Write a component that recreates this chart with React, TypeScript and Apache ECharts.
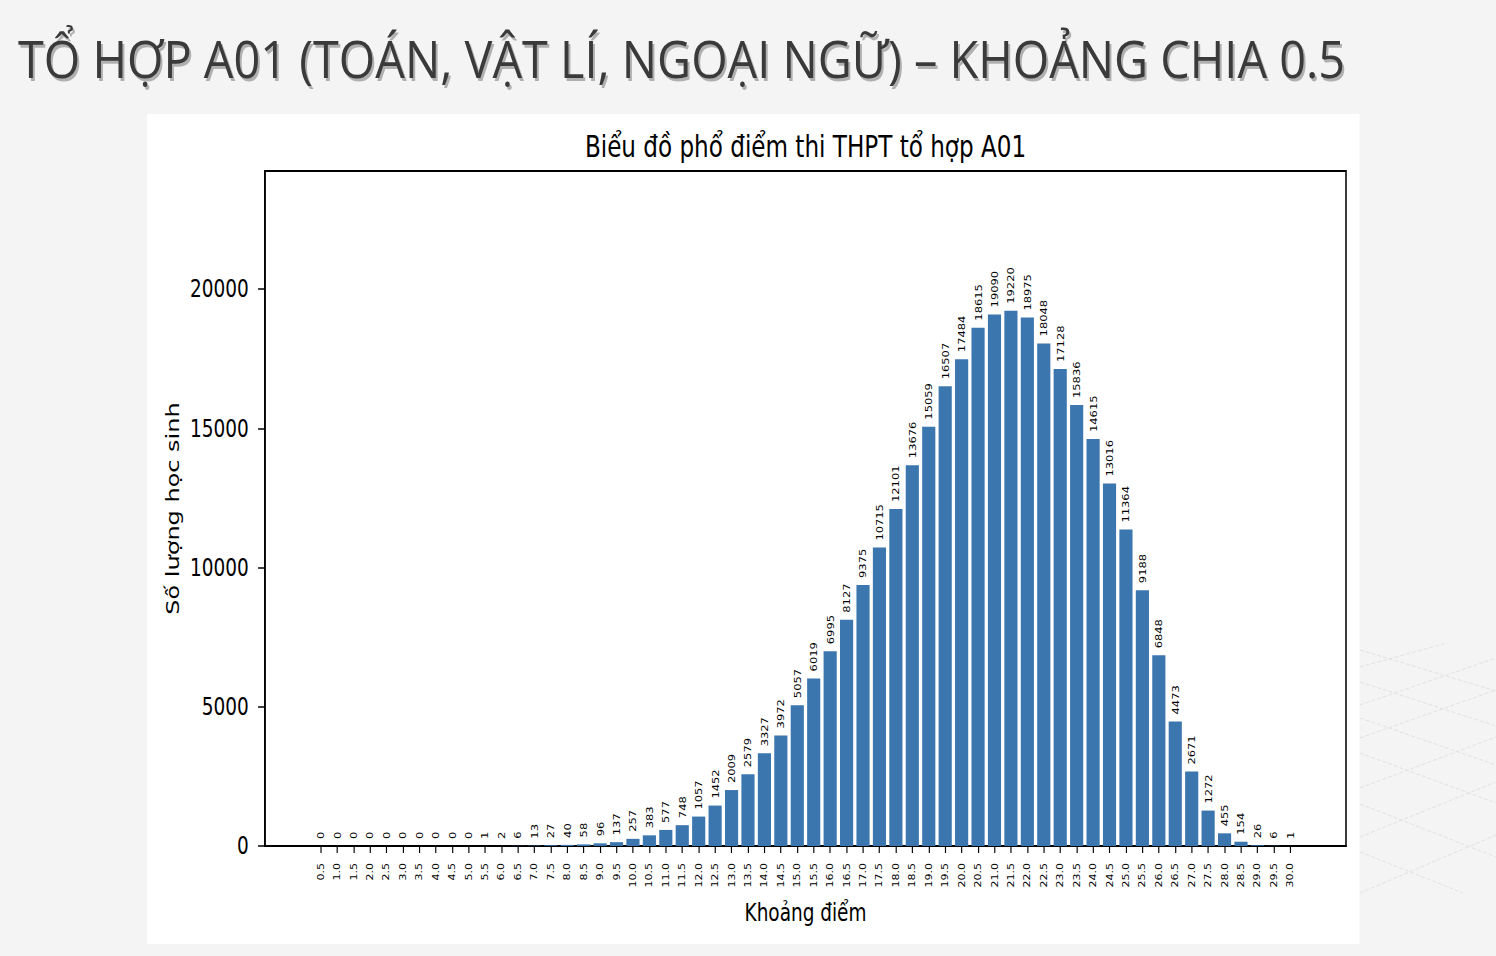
import React, { useEffect, useRef } from "react";
import * as echarts from "echarts";

const pageTitle = "TỔ HỢP A01 (TOÁN, VẬT LÍ, NGOẠI NGỮ) – KHOẢNG CHIA 0.5";
const chartTitle = "Biểu đồ phổ điểm thi THPT tổ hợp A01";
const xName = "Khoảng điểm";
const yName = "Số lượng học sinh";

const categories = [
  "0.5", "1.0", "1.5", "2.0", "2.5", "3.0", "3.5", "4.0", "4.5", "5.0",
  "5.5", "6.0", "6.5", "7.0", "7.5", "8.0", "8.5", "9.0", "9.5", "10.0",
  "10.5", "11.0", "11.5", "12.0", "12.5", "13.0", "13.5", "14.0", "14.5", "15.0",
  "15.5", "16.0", "16.5", "17.0", "17.5", "18.0", "18.5", "19.0", "19.5", "20.0",
  "20.5", "21.0", "21.5", "22.0", "22.5", "23.0", "23.5", "24.0", "24.5", "25.0",
  "25.5", "26.0", "26.5", "27.0", "27.5", "28.0", "28.5", "29.0", "29.5", "30.0",
];

const counts = [
  0, 0, 0, 0, 0, 0, 0, 0, 0, 0,
  1, 2, 6, 13, 27, 40, 58, 96, 137, 257,
  383, 577, 748, 1057, 1452, 2009, 2579, 3327, 3972, 5057,
  6019, 6995, 8127, 9375, 10715, 12101, 13676, 15059, 16507, 17484,
  18615, 19090, 19220, 18975, 18048, 17128, 15836, 14615, 13016, 11364,
  9188, 6848, 4473, 2671, 1272, 455, 154, 26, 6, 1,
];

const yTicks = [0, 5000, 10000, 15000, 20000];
const yMax = 24240;
const xMin = -3.39;
const xMax = 62.39;

const SX = 0.77; // horizontal squeeze of the chart picture
const PANEL = { left: 147, top: 114, width: 1213, height: 830 };
const FONT = "DejaVu Sans";

// decorative background lines (page ornament)
const decoLines: number[][] = [
  [1360, 650, 1496, 691],
  [1360, 682, 1496, 726],
  [1360, 718, 1496, 765],
  [1360, 753, 1496, 803],
  [1360, 804, 1496, 857],
  [1360, 852, 1463, 893],
  [1360, 667, 1447, 643],
  [1360, 705, 1496, 658],
  [1360, 738, 1496, 690],
  [1360, 788, 1496, 737],
  [1360, 837, 1496, 782],
  [1360, 893, 1496, 835],
];

export default function App() {
  const bgRef = useRef<HTMLDivElement>(null);
  const chartRef = useRef<HTMLDivElement>(null);

  useEffect(() => {
    const bg = echarts.init(bgRef.current!, null, { renderer: "svg" });
    const ctx = document.createElement("canvas").getContext("2d")!;
    ctx.font = '52px "Open Sans"';
    const measured = ctx.measureText(pageTitle).width || 1327;
    const titleScale = 1327 / measured;
    bg.setOption({
      animation: false,
      graphic: [
        ...decoLines.map((l) => ({
          type: "line",
          shape: { x1: l[0], y1: l[1], x2: l[2], y2: l[3] },
          style: { stroke: "#e2e2e2", lineWidth: 1, lineDash: [4, 2] },
          silent: true,
        })),
        {
          type: "text",
          x: 20,
          y: 61,
          scaleX: titleScale,
          style: {
            text: pageTitle,
            fontFamily: "Open Sans",
            fontSize: 52,
            fill: "rgba(0,0,0,0.28)",
            verticalAlign: "middle",
            align: "left",
          },
          silent: true,
        },
        {
          type: "text",
          x: 18,
          y: 58,
          scaleX: titleScale,
          style: {
            text: pageTitle,
            fontFamily: "Open Sans",
            fontSize: 52,
            fill: "#3a3a3a",
            verticalAlign: "middle",
            align: "left",
          },
        },
      ],
    });

    const chart = echarts.init(chartRef.current!, null, { renderer: "svg" });
    const gridLeft = (265 - PANEL.left) / SX;
    const gridRight = (1346 - PANEL.left) / SX;
    const gridW = gridRight - gridLeft;
    const idx = categories.map((_, i) => i);
    chart.setOption({
      animation: false,
      backgroundColor: "#ffffff",
      textStyle: { fontFamily: FONT },
      graphic: [
        {
          type: "text",
          x: gridLeft + gridW / 2,
          y: 32,
          style: {
            text: chartTitle,
            fontFamily: FONT,
            fontSize: 30,
            fill: "#000",
            align: "center",
            verticalAlign: "middle",
          },
        },
      ],
      grid: {
        left: gridLeft,
        top: 57,
        width: gridW,
        height: 675,
        show: true,
        borderColor: "#000",
        borderWidth: 2,
        backgroundColor: "transparent",
      },
      xAxis: {
        type: "value",
        min: xMin,
        max: xMax,
        splitLine: { show: false },
        axisLine: { show: true, onZero: false, lineStyle: { color: "#000", width: 2 } },
        axisTick: {
          show: true,
          customValues: idx,
          length: 7,
          lineStyle: { color: "#000", width: 1.5 },
        },
        axisLabel: {
          customValues: idx,
          rotate: 90,
          fontSize: 11,
          color: "#000",
          fontFamily: FONT,
          margin: 17,
          formatter: (v: number) => categories[Math.round(v)] ?? "",
        },
        name: xName,
        nameLocation: "middle",
        nameGap: 55,
        nameTextStyle: { fontSize: 24, color: "#000", fontFamily: FONT },
      },
      yAxis: {
        type: "value",
        min: 0,
        max: yMax,
        splitLine: { show: false },
        axisLine: { show: true, onZero: false, lineStyle: { color: "#000", width: 2 } },
        axisTick: {
          show: true,
          customValues: yTicks,
          length: 9,
          lineStyle: { color: "#000", width: 1.5 },
        },
        axisLabel: {
          customValues: yTicks,
          fontSize: 24,
          color: "#000",
          fontFamily: FONT,
          margin: 21,
          formatter: (v: number) => String(v),
        },
        name: yName,
        nameLocation: "middle",
        nameGap: 101,
        nameRotate: 90,
        nameTextStyle: { fontSize: 24, color: "#000", fontFamily: FONT },
      },
      series: [
        {
          type: "bar",
          data: counts.map((v, i) => [i, v]),
          barWidth: 0.8 * (gridW / (xMax - xMin)),
          itemStyle: { color: "#3b76af" },
          label: {
            show: true,
            position: "top",
            rotate: 90,
            align: "left",
            verticalAlign: "middle",
            distance: 7,
            fontSize: 11.5,
            color: "#000",
            fontFamily: FONT,
            formatter: (p: any) => String(p.value[1]),
          },
        },
      ],
    });

    return () => {
      chart.dispose();
      bg.dispose();
    };
  }, []);

  return (
    <div
      style={{
        position: "fixed",
        left: 0,
        top: 0,
        width: 1496,
        height: 956,
        background: "#f4f4f4",
        overflow: "hidden",
      }}
    >
      <div
        ref={bgRef}
        style={{ position: "absolute", left: 0, top: 0, width: 1496, height: 956 }}
      />
      <div
        style={{
          position: "absolute",
          left: PANEL.left,
          top: PANEL.top,
          width: PANEL.width,
          height: PANEL.height,
          overflow: "hidden",
        }}
      >
        <div
          ref={chartRef}
          style={{
            width: PANEL.width / SX,
            height: PANEL.height,
            transform: `scaleX(${SX})`,
            transformOrigin: "0 0",
          }}
        />
      </div>
    </div>
  );
}
